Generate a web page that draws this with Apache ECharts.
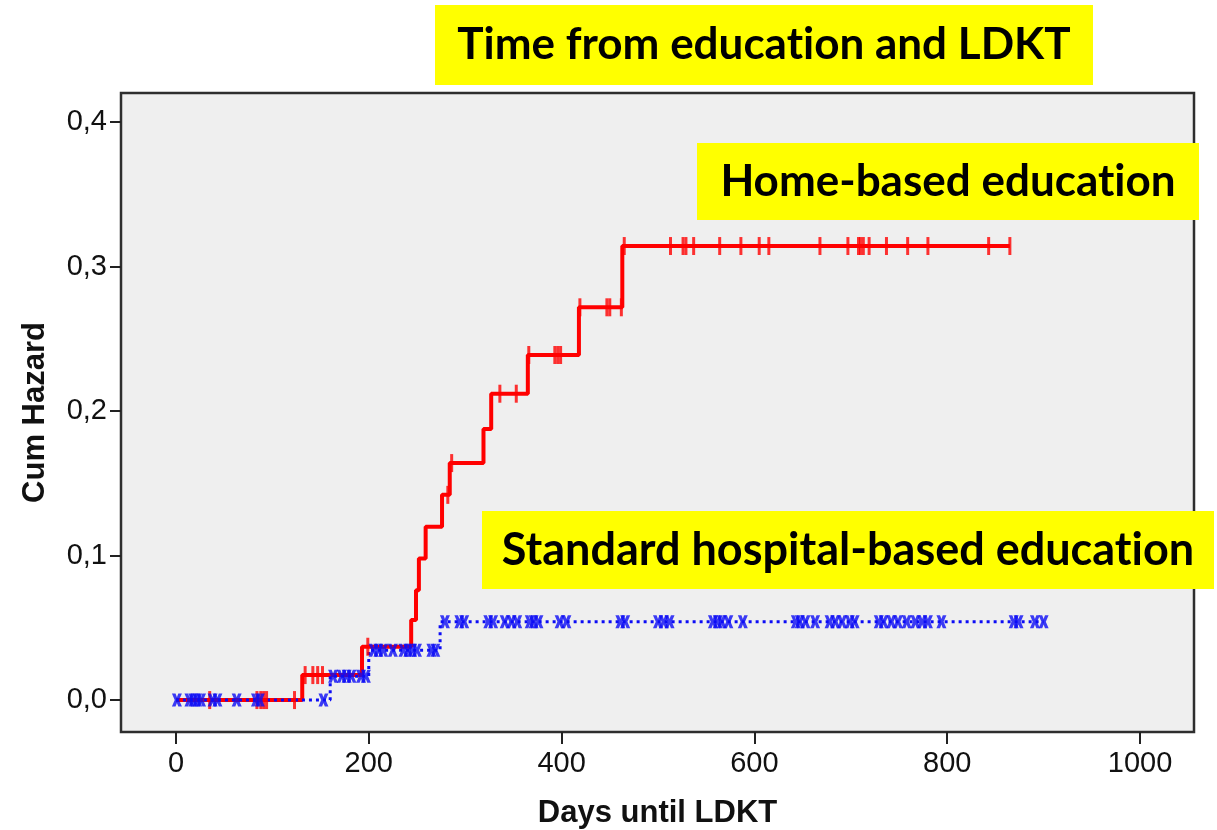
<!DOCTYPE html>
<html>
<head>
<meta charset="utf-8">
<title>Time from education and LDKT</title>
<script src="https://cdn.jsdelivr.net/npm/echarts@6/dist/echarts.min.js"></script>
<style>
  html, body { margin: 0; padding: 0; background: #ffffff; }
  #chart { width: 1217px; height: 830px; }
</style>
</head>
<body>
<div id="chart"></div>
<script>
// Cumulative hazard step curves per education group
const xTicks = [0, 200, 400, 600, 800, 1000];
const yTicks = [0, 0.1, 0.2, 0.3, 0.4];

// Home-based education: event days and cumulative hazard after each event
const homeTimes  = [0, 131, 193, 244, 249, 252, 259, 276, 284, 319, 327, 365, 418, 463, 865];
const homeHazard = [0, 0.0173, 0.0369, 0.0554, 0.076, 0.098, 0.120, 0.142, 0.164, 0.1875, 0.212, 0.2388, 0.2718, 0.3142, 0.3142];
// Home-based education: censored days
const homeCensored = [35, 84, 88, 91, 94, 123, 134, 142, 147, 152, 199, 282, 286, 336, 353, 366,
  393, 396, 399, 419, 447, 450, 462, 465, 513, 526, 529, 537, 564, 586, 605, 615, 668, 697, 708,
  710, 713, 719, 737, 759, 780, 843, 865];

// Standard hospital-based education: event days and cumulative hazard
const standardTimes  = [0, 160, 200, 274, 900];
const standardHazard = [0, 0.0165, 0.0345, 0.0542, 0.0542];
// Standard hospital-based education: censored days
const standardCensored = [1, 14, 18, 22, 26, 38, 43, 63, 83, 87, 153, 163, 172, 177, 182, 192, 197,
  205, 210, 215, 225, 236, 241, 245, 250, 265, 269, 279, 294, 299, 324, 329, 341, 348, 354, 367,
  371, 376, 398, 405, 461, 466, 500, 506, 512, 557, 562, 566, 573, 588, 643, 647, 653, 663, 678,
  684, 691, 699, 704, 729, 734, 742, 749, 758, 767, 774, 780, 794, 869, 874, 891, 900];

const RED = '#ff0000';
const BLUE = '#0c0cf5';

// value of a right-continuous step function at day t
function stepValue(times, values, t) {
  let v = values[0];
  for (let i = 0; i < times.length; i++) {
    if (times[i] <= t) v = values[i];
  }
  return v;
}
const zip = (xs, ys) => xs.map((x, i) => [x, ys[i]]);
const censorPoints = (days, times, values) => days.map(d => [d, stepValue(times, values, d)]);

// cross marker for censored cases in the standard group
const crossPath = 'path://M0,0L3.6,0L5,3.4L6.4,0L10,0L7.2,6L10,12L6.4,12L5,8.6L3.6,12L0,12L2.8,6Z';

const chart = echarts.init(document.getElementById('chart'), null, { renderer: 'canvas' });

const labelFont = { fontFamily: '"Liberation Sans", Arial, sans-serif', fontSize: 29, color: '#111' };
const nameFont = { fontFamily: '"Liberation Sans", Arial, sans-serif', fontSize: 31, fontWeight: 'bold', color: '#111' };
const boxFont = '"Lato", "Open Sans", sans-serif';
const ZWNJ = '\u200C'; // keeps "t" and "i" as separate glyphs

function banner(left, top, width, height, text, fontSize) {
  return {
    type: 'group',
    left: left, top: top,
    children: [
      { type: 'rect', shape: { x: 0, y: 0, width: width, height: height }, style: { fill: '#ffff00' } },
      { type: 'text', x: width / 2, y: height / 2,
        style: { text: text, fill: '#000', font: 'bold ' + fontSize + 'px ' + boxFont,
                 textAlign: 'center', textVerticalAlign: 'middle' } }
    ]
  };
}

chart.setOption({
  animation: false,
  backgroundColor: '#ffffff',
  grid: {
    left: 121, right: 23, top: 93, bottom: 98,
    outerBoundsMode: 'none',
    show: true, backgroundColor: '#efefef',
    borderColor: '#2e2e2e', borderWidth: 2.5
  },
  xAxis: {
    type: 'value', min: -57, max: 1056,
    name: 'Days until LDKT', nameLocation: 'middle', nameGap: 66,
    nameTextStyle: nameFont,
    axisLine: { show: false, onZero: false },
    splitLine: { show: false },
    axisTick: { show: true, length: 12, customValues: xTicks, lineStyle: { color: '#222', width: 2 } },
    axisLabel: { customValues: xTicks, margin: 17, ...labelFont, formatter: v => String(v) }
  },
  yAxis: {
    type: 'value', min: -0.0221, max: 0.4201,
    name: 'Cum Hazard', nameLocation: 'middle', nameGap: 70, nameRotate: 90,
    nameTextStyle: nameFont,
    axisLine: { show: false, onZero: false },
    splitLine: { show: false },
    axisTick: { show: true, length: 11, customValues: yTicks, lineStyle: { color: '#222', width: 2 } },
    axisLabel: { customValues: yTicks, margin: 14, ...labelFont,
                 formatter: v => v.toFixed(1).replace('.', ',') }
  },
  series: [
    {
      name: 'Home-based education', type: 'line', step: 'end',
      data: zip(homeTimes, homeHazard), showSymbol: false, z: 2,
      lineStyle: { color: RED, width: 4 }
    },
    {
      name: 'Standard hospital-based education', type: 'line', step: 'end',
      data: zip(standardTimes, standardHazard), showSymbol: false, z: 3,
      lineStyle: { color: BLUE, width: 3, type: [3, 4] }
    },
    {
      name: 'Home-based education censored', type: 'scatter', z: 4,
      data: censorPoints(homeCensored, homeTimes, homeHazard),
      symbol: 'rect', symbolSize: [3, 18],
      itemStyle: { color: RED }
    },
    {
      name: 'Standard hospital-based education censored', type: 'scatter', z: 5,
      data: censorPoints(standardCensored, standardTimes, standardHazard),
      symbol: crossPath, symbolSize: [10, 13],
      itemStyle: { color: BLUE }
    }
  ],
  graphic: [
    banner(435, 5, 658, 80, 'Time from educat' + ZWNJ + 'ion and LDKT', 44),
    banner(697, 143, 502, 77, 'Home-based educat' + ZWNJ + 'ion', 44),
    banner(482, 511, 732, 78, 'Standard hospital-based educat' + ZWNJ + 'ion', 45)
  ]
});
</script>
</body>
</html>
